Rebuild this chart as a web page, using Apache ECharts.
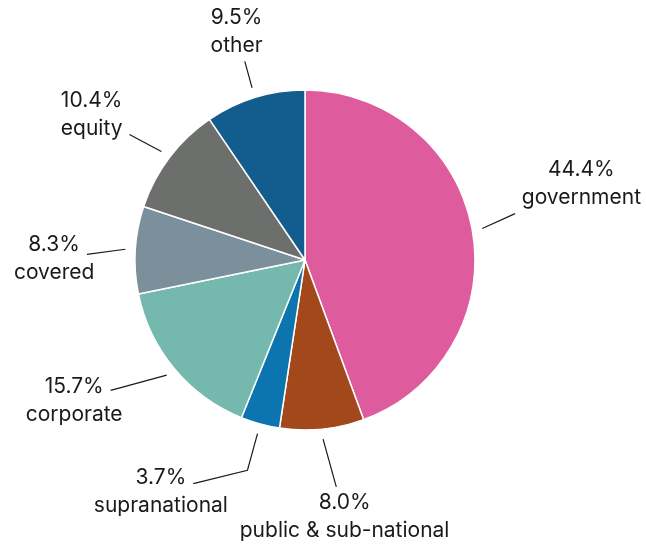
<!DOCTYPE html>
<html>
<head>
<meta charset="utf-8">
<script src="https://cdn.jsdelivr.net/npm/echarts@6/dist/echarts.min.js"></script>
<style>
  html, body { margin: 0; padding: 0; background: #fff; }
  #chart { width: 646px; height: 547px; }
</style>
</head>
<body>
<div id="chart"></div>
<script>
// Portfolio breakdown by asset class (percent)
const categories = ['government', 'public & sub-national', 'supranational', 'corporate', 'covered', 'equity', 'other'];
const shares = [44.4, 8.0, 3.7, 15.7, 8.3, 10.4, 9.5];
const sliceColors = ['#de5c9d', '#a3481b', '#0c74ae', '#75b8ae', '#7b909a', '#6d6f6d', '#135c8e'];
// hand-tuned label offsets (px) that spread the labels around the pie
const labelNudge = [[4, -20], [8, 16], [-71, -3], [-15, -15], [5, 18], [-9, 2], [1, 4]];

const FONT_FAMILY = 'Inter, "Liberation Sans", Arial, sans-serif';
const FONT_SIZE = 21;
const LINE_H = 28;
const CENTER = [305, 260];
const RADIUS = 170;
const LINE_START = RADIUS + 10;
const LINE_END = RADIUS + 40;
const TEXT_GAP = 7;

const measureCtx = document.createElement('canvas').getContext('2d');
measureCtx.font = FONT_SIZE + 'px ' + FONT_FAMILY;
const textWidth = s => measureCtx.measureText(s).width;
const pctText = v => v.toFixed(1) + '%';

// first point where the ray p -> q enters one of the boxes
function rayEntry(p, q, boxes) {
  const d = [q[0] - p[0], q[1] - p[1]];
  let best = 1;
  boxes.forEach(b => {
    let t0 = 0, t1 = 1;
    for (let k = 0; k < 2; k++) {
      const lo = k === 0 ? b.x0 : b.y0, hi = k === 0 ? b.x1 : b.y1;
      if (Math.abs(d[k]) < 1e-9) {
        if (p[k] < lo || p[k] > hi) { t0 = 2; }
      } else {
        let a = (lo - p[k]) / d[k], c = (hi - p[k]) / d[k];
        if (a > c) [a, c] = [c, a];
        t0 = Math.max(t0, a); t1 = Math.min(t1, c);
      }
    }
    if (t0 <= t1 && t0 < best) best = t0;
  });
  return [p[0] + d[0] * best, p[1] + d[1] * best];
}

// Place each two-line label beyond its slice and aim a leader line at it
function computeLabelLayouts() {
  const total = shares.reduce((a, b) => a + b, 0);
  let cum = 0;
  return shares.map((v, i) => {
    const mid = (cum + v / 2) / total * Math.PI * 2;
    cum += v;
    const dx = Math.sin(mid), dy = -Math.cos(mid);
    const p1 = [CENTER[0] + dx * LINE_START, CENTER[1] + dy * LINE_START];
    const p2 = [CENTER[0] + dx * LINE_END, CENTER[1] + dy * LINE_END];
    const w1 = textWidth(pctText(v));
    const w2 = textWidth(categories[i]);
    const w = Math.max(w1, w2);
    const h = LINE_H * 2;
    let cx, cy;
    if (Math.abs(dx) > 0.5) {
      cx = p2[0] + Math.sign(dx) * (w / 2 + 6);
      cy = p2[1] + Math.max(-0.75, Math.min(0.75, dy * 4)) * h / 2;
    } else {
      cy = p2[1] + Math.sign(dy) * (h / 2 + 4);
      cx = p2[0] + dx * w / 2;
    }
    cx += labelNudge[i][0];
    cy += labelNudge[i][1];
    const half = 9 + TEXT_GAP;
    const boxes = [
      { x0: cx - w1 / 2 - TEXT_GAP, x1: cx + w1 / 2 + TEXT_GAP, y0: cy - LINE_H / 2 - half, y1: cy - LINE_H / 2 + half },
      { x0: cx - w2 / 2 - TEXT_GAP, x1: cx + w2 / 2 + TEXT_GAP, y0: cy + LINE_H / 2 - half, y1: cy + LINE_H / 2 + half }
    ];
    // leader: straight toward the label, or radial then bent when the label sits far off-axis
    const toLabel = Math.atan2(cx - p1[0], -(cy - p1[1]));
    let dev = Math.abs(toLabel - mid) % (Math.PI * 2);
    if (dev > Math.PI) dev = Math.PI * 2 - dev;
    let pts;
    if (dev > Math.PI / 6) {
      const elbow = [CENTER[0] + dx * (LINE_END + 8), CENTER[1] + dy * (LINE_END + 8)];
      pts = [p1, elbow, rayEntry(elbow, [cx, cy], boxes)];
    } else {
      pts = [p1, rayEntry(p1, [cx, cy], boxes)];
    }
    return { cx, cy, pts };
  });
}
const layouts = computeLabelLayouts();

const chart = echarts.init(document.getElementById('chart'), null, { renderer: 'canvas' });
chart.setOption({
  animation: false,
  backgroundColor: '#ffffff',
  series: [{
    type: 'pie',
    center: CENTER,
    radius: RADIUS,
    startAngle: 90,
    clockwise: true,
    avoidLabelOverlap: false,
    data: categories.map((name, i) => ({
      name,
      value: shares[i],
      itemStyle: { color: sliceColors[i] }
    })),
    itemStyle: { borderColor: '#ffffff', borderWidth: 1.5 },
    label: {
      show: true,
      position: 'outside',
      formatter: p => pctText(p.value) + '\n' + p.name,
      fontFamily: FONT_FAMILY,
      fontSize: FONT_SIZE,
      lineHeight: LINE_H,
      color: '#1a1a1a',
      align: 'center'
    },
    labelLine: {
      show: true,
      length: 30,
      length2: 0,
      lineStyle: { color: '#1a1a1a', width: 1.2 }
    },
    labelLayout: params => {
      const l = layouts[params.dataIndex];
      return {
        x: l.cx,
        y: l.cy,
        align: 'center',
        verticalAlign: 'middle',
        labelLinePoints: l.pts
      };
    }
  }]
});
</script>
</body>
</html>
